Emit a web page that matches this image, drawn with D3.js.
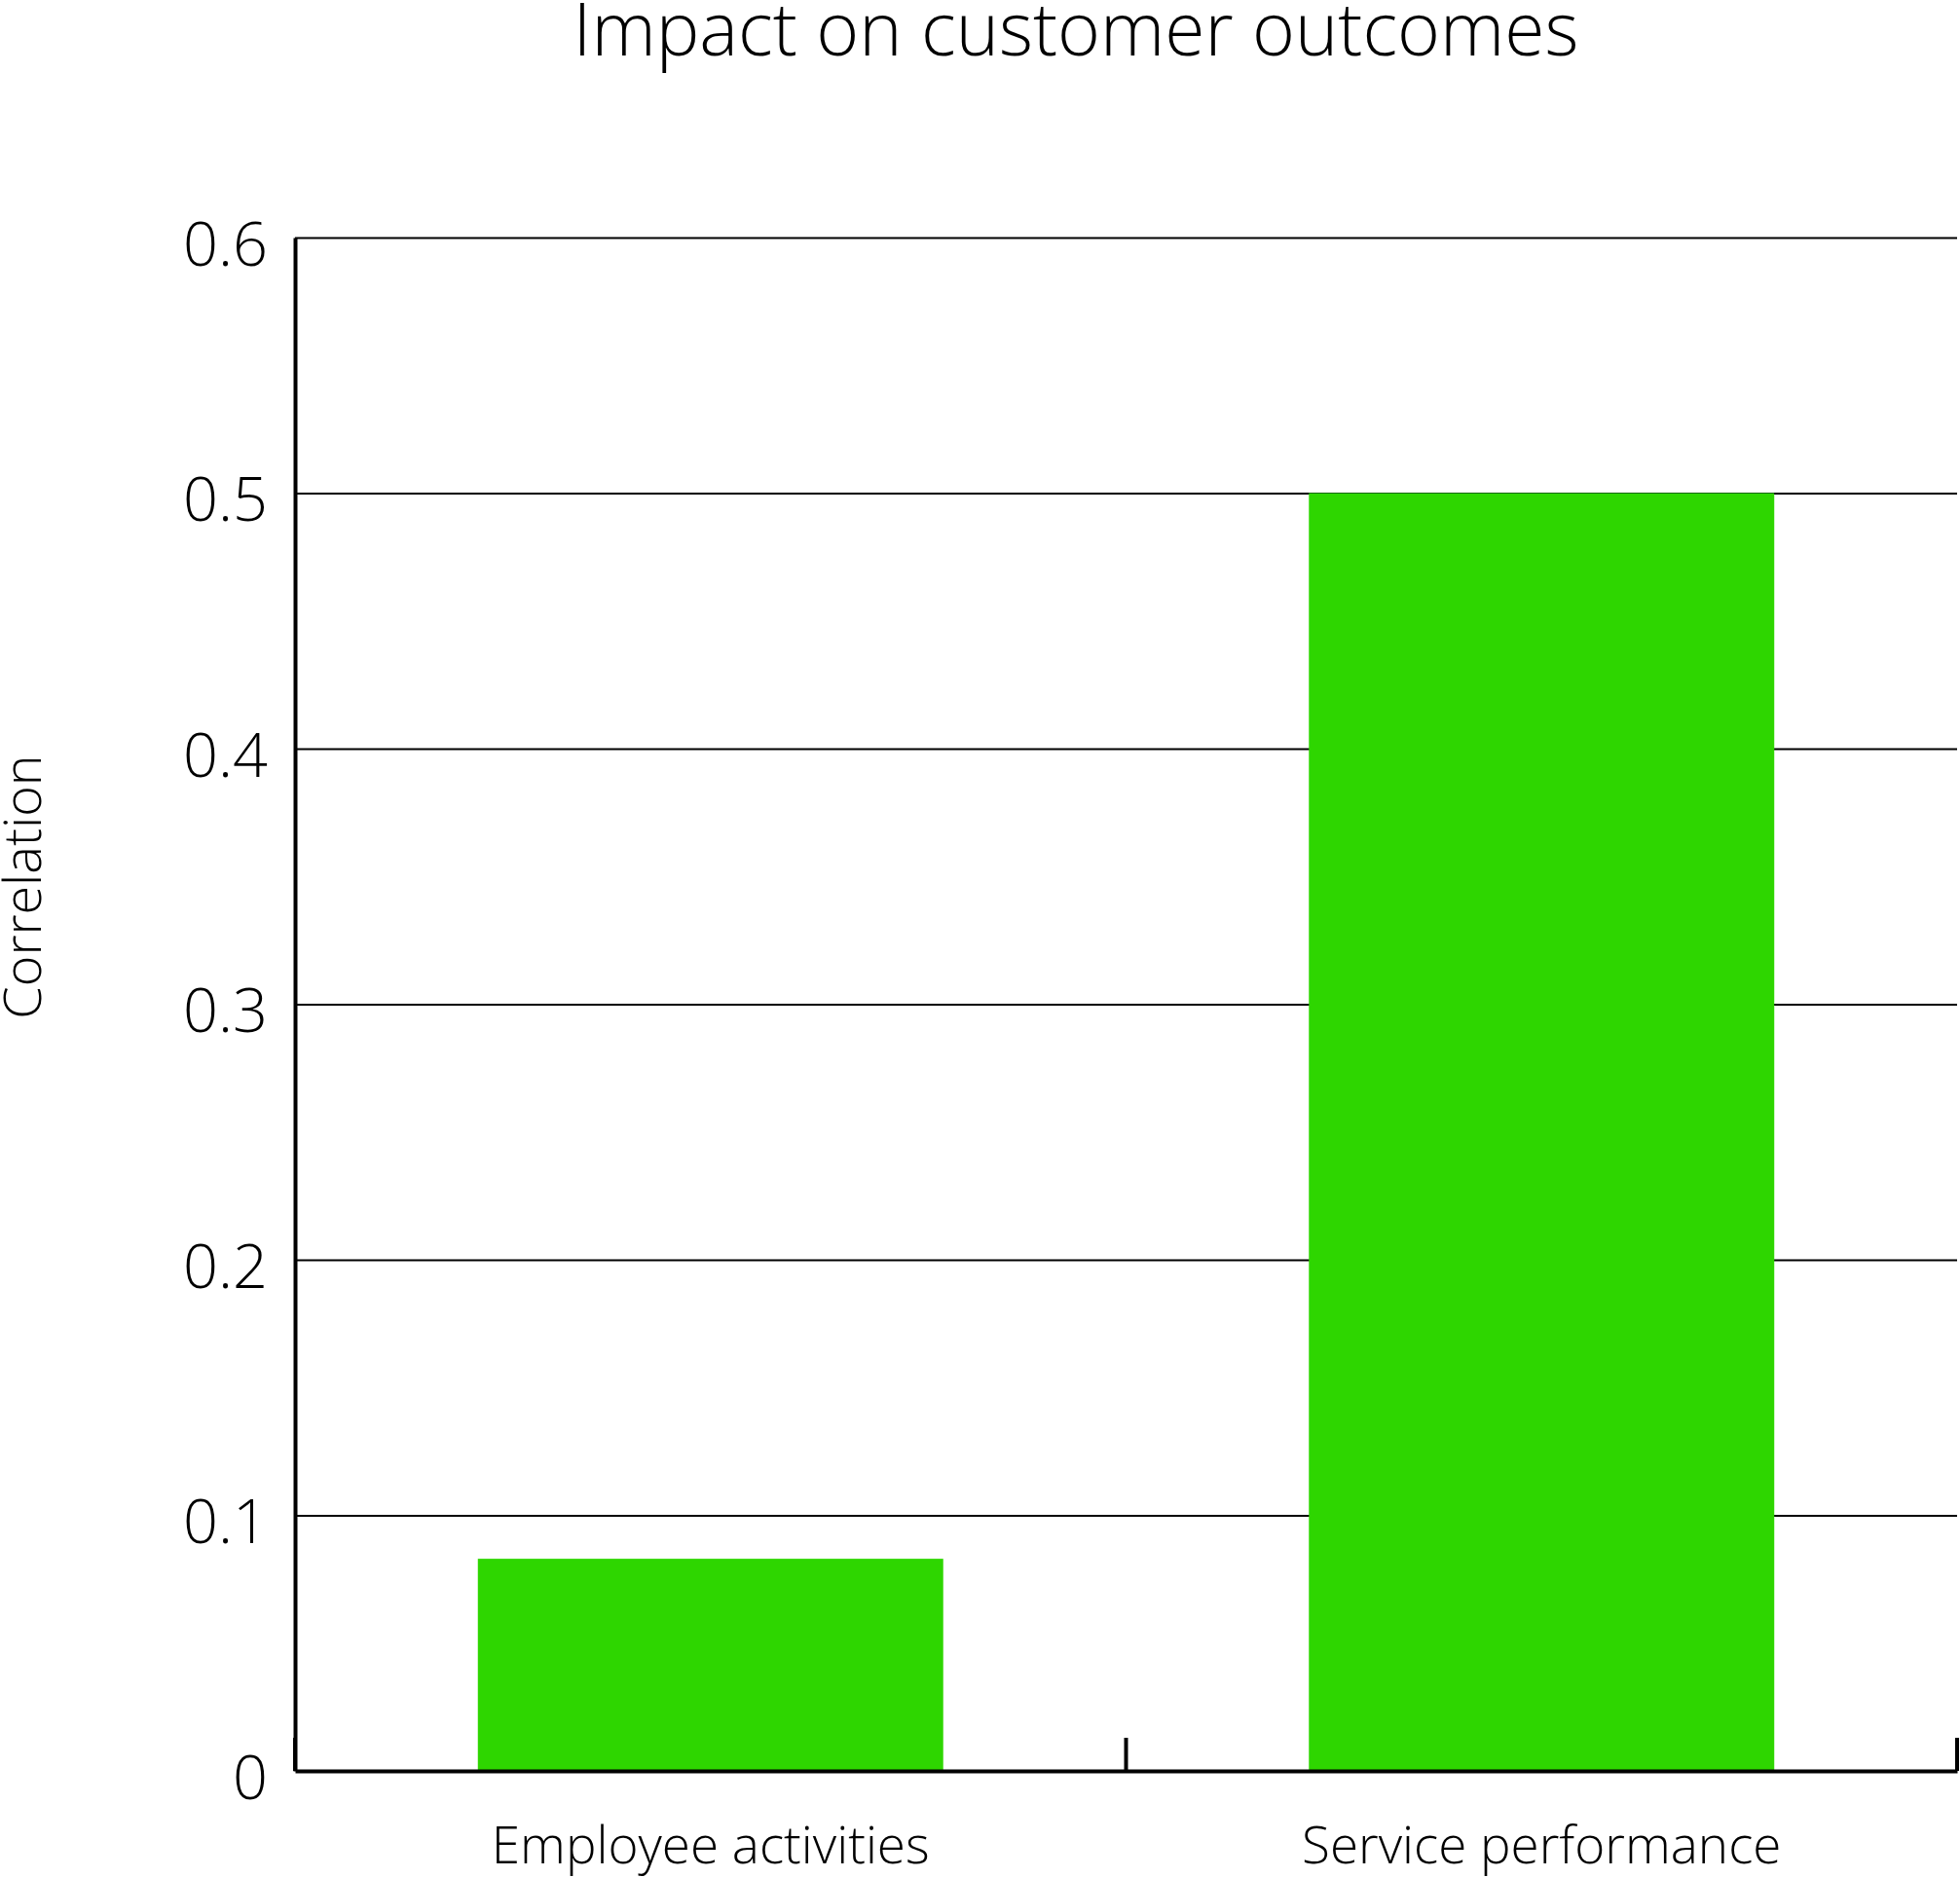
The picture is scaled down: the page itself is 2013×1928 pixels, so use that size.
<!DOCTYPE html>
<meta charset="utf-8">
<script src="https://d3js.org/d3.v7.min.js"></script>
<style>
body { margin: 0; background: #fff; }
text { font-family: "Open Sans", sans-serif; font-weight: 300; fill: #000; }
.axis text { font-size: 63px; }
.xaxis text { font-size: 53px; }
</style>
<svg id="chart" width="2013" height="1928"></svg>
<script>
// data
var categories = ["Employee activities", "Service performance"];
var correlation = [0.083, 0.5];
var yTicks = [0, 0.1, 0.2, 0.3, 0.4, 0.5, 0.6];

var margin = {top: 244, right: 3, bottom: 109, left: 303},
    width = 2013 - margin.left - margin.right,
    height = 1928 - margin.top - margin.bottom;

var svg = d3.select("#chart");
var g = svg.append("g")
    .attr("transform", "translate(" + margin.left + "," + margin.top + ")");

var x = d3.scaleBand()
    .domain(categories)
    .range([0, width])
    .paddingInner(0.44)
    .paddingOuter(0.22);

var y = d3.scaleLinear()
    .domain([0, 0.6])
    .range([height, 0]);

// gridlines + left axis
var yAxis = g.append("g")
    .attr("class", "axis")
    .call(d3.axisLeft(y)
      .tickValues(yTicks)
      .tickFormat(function(d){ return d === 0 ? "0" : d3.format(".1f")(d); })
      .tickSizeInner(-width)
      .tickSizeOuter(0)
      .tickPadding(28));
yAxis.selectAll(".tick line").attr("stroke", "#000").attr("stroke-width", 2);
yAxis.select(".domain").attr("stroke", "#000").attr("stroke-width", 4);
yAxis.selectAll(".tick text").attr("dy", "0.45em");
yAxis.selectAll(".tick").filter(function(d){ return d === 0; }).select("line").remove();

// bars
g.append("g")
  .selectAll("rect")
  .data(correlation)
  .enter()
  .append("rect")
    .attr("x", function(d, i){ return x(categories[i]); })
    .attr("y", function(d){ return y(d); })
    .attr("width", x.bandwidth())
    .attr("height", function(d){ return y(0) - y(d); })
    .attr("fill", "#2ed600");

// bottom axis with labels
var xAxis = g.append("g")
    .attr("class", "xaxis")
    .attr("transform", "translate(0," + height + ")")
    .call(d3.axisBottom(x).tickSize(0).tickSizeOuter(0).tickPadding(57));
xAxis.select(".domain").attr("stroke", "#000").attr("stroke-width", 4);

// category boundary ticks, pointing up
xAxis.selectAll(".bound")
  .data(d3.range(categories.length + 1))
  .enter()
  .append("line")
    .attr("x1", function(i){ return i * x.step(); })
    .attr("x2", function(i){ return i * x.step(); })
    .attr("y1", 0)
    .attr("y2", -34)
    .attr("stroke", "#000")
    .attr("stroke-width", 4);

// title
svg.append("text")
  .attr("x", 1105)
  .attr("y", 57)
  .attr("text-anchor", "middle")
  .style("font-size", "75px")
  .text("Impact on customer outcomes");

// y label
svg.append("text")
  .attr("transform", "translate(42,911) rotate(-90)")
  .attr("text-anchor", "middle")
  .style("font-size", "54px")
  .text("Correlation");
</script>
